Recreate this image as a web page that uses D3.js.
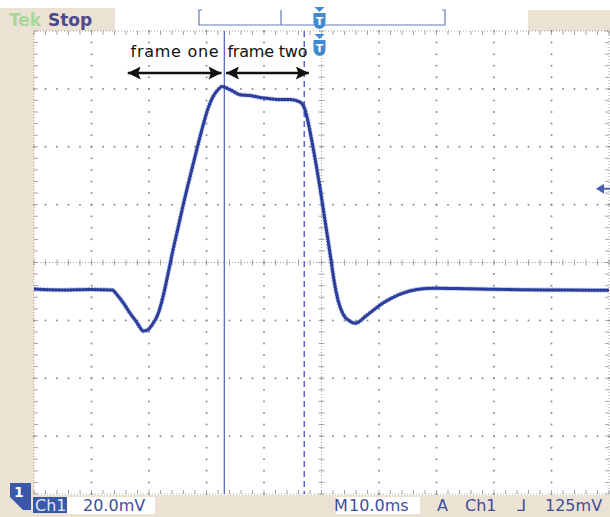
<!DOCTYPE html>
<html>
<head>
<meta charset="utf-8">
<script src="https://cdn.jsdelivr.net/npm/d3@7"></script>
<style>
  body { margin: 0; background: #fff; }
  svg { display: block; }
</style>
</head>
<body>
<svg id="scope" width="610" height="517"></svg>
<script>
// captured waveform, ch1 (time in ms from left edge, amplitude in mV from centre line)
var timeMs = [0, 4.5, 9.7, 13.57, 14.61, 15.65, 16.7, 17.74, 18.43, 18.96, 19.65, 20.52, 21.57,
  22.43, 23.3, 24.17, 25.04, 25.91, 26.78, 27.65, 28.52, 29.39, 30.26, 31.13, 32.0, 32.7, 34.1,
  35.8, 37.6, 39.3, 41.0, 42.8, 44.5, 46.3, 47.13, 47.65, 48.35, 49.04, 49.74, 50.43, 51.13,
  51.65, 52.17, 52.87, 53.74, 54.96, 55.83, 57.9, 60.7, 63.7, 66.6, 69.4, 75.8, 84.5, 93.2, 100];
var voltageMv = [-9.2, -9.5, -9.3, -9.5, -11.6, -14.3, -17.5, -20.3, -22.4, -23.7, -23.4, -21.6,
  -17.8, -11.9, -4.0, 4.3, 11.9, 19.6, 26.8, 33.8, 40.7, 47.3, 53.2, 57.3, 59.7, 60.8, 59.7,
  58.0, 57.7, 57.0, 56.6, 56.3, 56.3, 55.4, 52.8, 48.7, 41.7, 34.1, 25.8, 16.8, 7.8, 0.9, -6.1,
  -13.0, -17.8, -20.3, -21.0, -18.2, -14.0, -10.9, -9.3, -8.9, -9.1, -9.4, -9.5, -9.6];

var timeDomain = [0, 100];     // 10 div x 10.0 ms
var voltDomain = [-80, 80];    // 8 div x 20.0 mV
var cursorsMs = [33.1, 47.0];  // solid, dashed
var triggerMs = 50;
var triggerMv = 25.5;
var frameLabels = ["frame one", "frame two"];
var statusLeft = ["Ch1", "20.0mV"];
var statusRight = ["M", "10.0ms", "A", "Ch1", "\u2143", "125mV"];

var svg = d3.select("#scope");
var x = d3.scaleLinear().domain(timeDomain).range([34, 609]);
var y = d3.scaleLinear().domain(voltDomain).range([494, 31]);

var beige = "#ebe2d3", gridCol = "#8d8d8d", trace = "#2c3e9c", cursorCol = "#5a68c4";
var txtBlue = "#3d4d9e", tBlue = "#3f8ad0";

// panels
svg.append("rect").attr("x", 0).attr("y", 8).attr("width", 115).attr("height", 24).attr("fill", beige);
svg.append("rect").attr("x", 528).attr("y", 10).attr("width", 82).attr("height", 22).attr("fill", beige);
svg.append("rect").attr("x", 0).attr("y", 31).attr("width", 34).attr("height", 470).attr("fill", beige);
svg.append("rect").attr("x", 0).attr("y", 495).attr("width", 610).attr("height", 22).attr("fill", beige);
svg.append("rect").attr("x", 34).attr("y", 31).attr("width", 575).attr("height", 463).attr("fill", "#fff");

svg.append("text").attr("x", 9).attr("y", 26).attr("font-family", "DejaVu Sans")
  .attr("font-weight", "bold").attr("font-size", 17).attr("fill", "#a9d99a").text("Tek");
svg.append("text").attr("x", 48).attr("y", 26).attr("font-family", "DejaVu Sans")
  .attr("font-weight", "bold").attr("font-size", 17).attr("fill", "#4b4b8e").text("Stop");

// grid
var g = svg.append("g");
var xMajor = d3.range(timeDomain[0], timeDomain[1] + 0.01, 10);
var yMajor = d3.range(voltDomain[0], voltDomain[1] + 0.01, 20);
var xMinor = d3.range(timeDomain[0], timeDomain[1] + 0.01, 2);
var yMinor = d3.range(voltDomain[0], voltDomain[1] + 0.01, 4);

xMajor.slice(1, -1).forEach(function (t) {
  if (t === 50) return;
  g.selectAll(null).data(yMinor).enter().append("circle")
    .attr("cx", x(t)).attr("cy", function (v) { return y(v); })
    .attr("r", 1).attr("fill", gridCol);
});
yMajor.slice(1, -1).forEach(function (v) {
  if (v === 0) return;
  g.selectAll(null).data(xMinor).enter().append("circle")
    .attr("cx", function (t) { return x(t); }).attr("cy", y(v))
    .attr("r", 1).attr("fill", gridCol);
});
// centre cross and border, dotted with minor ticks
[[x(50), y(voltDomain[1]), x(50), y(voltDomain[0])],
 [x(timeDomain[0]), y(0), x(timeDomain[1]), y(0)]].forEach(function (l) {
  g.append("line").attr("x1", l[0]).attr("y1", l[1]).attr("x2", l[2]).attr("y2", l[3])
    .attr("stroke", gridCol).attr("stroke-width", 0.8).attr("stroke-dasharray", "1,2");
});
g.append("rect").attr("x", x(0)).attr("y", y(80)).attr("width", x(100) - x(0)).attr("height", y(-80) - y(80))
  .attr("fill", "none").attr("stroke", gridCol).attr("stroke-width", 0.8).attr("stroke-dasharray", "1,2");

g.selectAll(null).data(xMinor).enter().append("line")
  .attr("x1", function (t) { return x(t); }).attr("x2", function (t) { return x(t); })
  .attr("y1", y(0) - 3).attr("y2", y(0) + 3).attr("stroke", gridCol).attr("stroke-width", 0.8);
g.selectAll(null).data(yMinor).enter().append("line")
  .attr("y1", function (v) { return y(v); }).attr("y2", function (v) { return y(v); })
  .attr("x1", x(50) - 3).attr("x2", x(50) + 3).attr("stroke", gridCol).attr("stroke-width", 0.8);
[[y(80), 1], [y(-80), -1]].forEach(function (b) {
  g.selectAll(null).data(xMinor).enter().append("line")
    .attr("x1", function (t) { return x(t); }).attr("x2", function (t) { return x(t); })
    .attr("y1", b[0]).attr("y2", b[0] + 4 * b[1]).attr("stroke", gridCol).attr("stroke-width", 0.8);
});
[[x(0), 1], [x(100), -1]].forEach(function (b) {
  g.selectAll(null).data(yMinor).enter().append("line")
    .attr("y1", function (v) { return y(v); }).attr("y2", function (v) { return y(v); })
    .attr("x1", b[0]).attr("x2", b[0] + 4 * b[1]).attr("stroke", gridCol).attr("stroke-width", 0.8);
});

// cursors
svg.append("line").attr("x1", x(cursorsMs[0])).attr("x2", x(cursorsMs[0]))
  .attr("y1", y(80)).attr("y2", y(-80)).attr("stroke", cursorCol).attr("stroke-width", 1.3);
svg.append("line").attr("x1", x(cursorsMs[1])).attr("x2", x(cursorsMs[1]))
  .attr("y1", y(80)).attr("y2", y(-80)).attr("stroke", cursorCol).attr("stroke-width", 1.5)
  .attr("stroke-dasharray", "6,4");

// waveform
var pts = timeMs.map(function (t, i) { return [t, voltageMv[i]]; });
var line = d3.line().x(function (d) { return x(d[0]); }).y(function (d) { return y(d[1]); })
  .curve(d3.curveMonotoneX);
svg.append("path").attr("d", line(pts)).attr("fill", "none").attr("stroke", "#4a5cb4")
  .attr("stroke-opacity", 0.5).attr("stroke-width", 4.6).attr("stroke-linejoin", "round")
  .attr("stroke-dasharray", "2,1");
svg.append("path").attr("d", line(pts)).attr("fill", "none").attr("stroke", trace)
  .attr("stroke-width", 3).attr("stroke-linejoin", "round");

// frame annotations
var defs = svg.append("defs");
defs.append("marker").attr("id", "head").attr("viewBox", "0 0 10 10").attr("refX", 10).attr("refY", 5)
  .attr("markerWidth", 16).attr("markerHeight", 13).attr("markerUnits", "userSpaceOnUse")
  .attr("orient", "auto-start-reverse")
  .append("path").attr("d", "M0,0L10,5L0,10L2,5Z").attr("fill", "#111");
var spans = [[x(16.3), x(32.6)], [x(33.4), x(47.8)]];
spans.forEach(function (s, i) {
  svg.append("line").attr("x1", s[0]).attr("x2", s[1]).attr("y1", 73).attr("y2", 73)
    .attr("stroke", "#111").attr("stroke-width", 2.4)
    .attr("marker-start", "url(#head)").attr("marker-end", "url(#head)");
  svg.append("text").attr("x", (s[0] + s[1]) / 2).attr("y", 57).attr("text-anchor", "middle")
    .attr("font-family", "DejaVu Sans").attr("font-size", 16).attr("fill", "#111")
    .attr("textLength", i === 0 ? 88 : 80).text(frameLabels[i]);
});

// trigger markers
function tMarker(cx, top) {
  var m = svg.append("g").attr("transform", "translate(" + cx + "," + top + ")");
  m.append("path").attr("d", "M-5,0L5,0L0,5Z").attr("fill", tBlue);
  m.append("path").attr("d", "M-6,6L6,6L6,15Q6,21 0,22Q-6,21 -6,15Z").attr("fill", tBlue);
  m.append("text").attr("x", 0).attr("y", 18).attr("text-anchor", "middle").attr("fill", "#fff")
    .attr("font-family", "DejaVu Sans").attr("font-weight", "bold").attr("font-size", 11).text("T");
}
// record length bar at top
var bar = svg.append("g").attr("stroke", "#6a78c4").attr("stroke-width", 1.2).attr("fill", "none");
bar.append("path").attr("d", "M202,10H199V25H445V10H442");
bar.append("line").attr("x1", 281).attr("x2", 281).attr("y1", 10).attr("y2", 25);
tMarker(x(triggerMs) - 2, 7);
tMarker(x(triggerMs) - 2, 34);

// trigger level arrow
svg.append("path").attr("d", "M596," + y(triggerMv) + "l8,-5v10Z").attr("fill", "#4a5cb4");
svg.append("line").attr("x1", 602).attr("x2", 610).attr("y1", y(triggerMv)).attr("y2", y(triggerMv))
  .attr("stroke", "#4a5cb4").attr("stroke-width", 2);

// channel 1 ground marker
svg.append("path").attr("d", "M10,483H31V510H23L10,497Z").attr("fill", "#3b58a8");
svg.append("text").attr("x", 14).attr("y", 497).attr("fill", "#fff").attr("font-family", "DejaVu Sans")
  .attr("font-weight", "bold").attr("font-size", 14).text("1");

// status bar
svg.append("rect").attr("x", 33).attr("y", 497).attr("width", 34).attr("height", 16).attr("fill", "#3b58a8");
svg.append("rect").attr("x", 67).attr("y", 497).attr("width", 88).attr("height", 17).attr("fill", "#fff");
svg.append("rect").attr("x", 336).attr("y", 497).attr("width", 84).attr("height", 17).attr("fill", "#fff");
var st = svg.append("g").attr("font-family", "DejaVu Sans").attr("font-size", 16).attr("fill", txtBlue);
st.append("text").attr("x", 35).attr("y", 511).attr("fill", "#dfe6f7").text(statusLeft[0]);
st.append("text").attr("x", 83).attr("y", 511).text(statusLeft[1]);
var rx = [334, 349, 437, 465, 517, 545];
statusRight.forEach(function (s, i) {
  st.append("text").attr("x", rx[i]).attr("y", 511).text(s);
});
</script>
</body>
</html>
